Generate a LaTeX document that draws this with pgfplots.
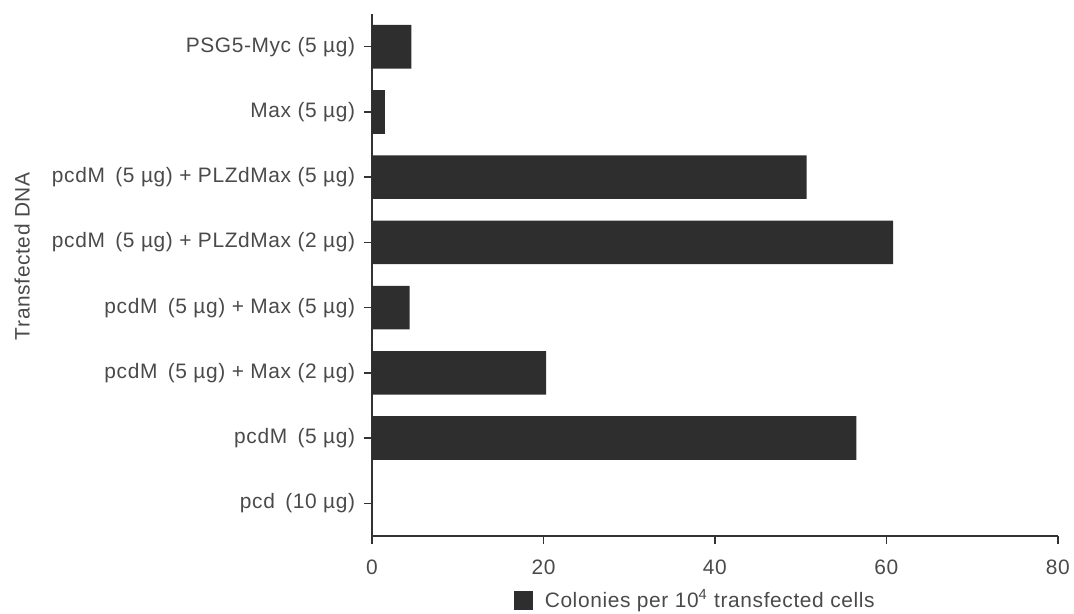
\documentclass[border=0pt]{standalone}
\usepackage{pgfplots}
\pgfplotsset{compat=1.18}
\usepackage{fontspec}
\setmainfont{Liberation Sans}[LetterSpace=3]
\definecolor{barcol}{HTML}{2E2E2E}
\definecolor{txtcol}{HTML}{4A4A4A}
\definecolor{axcol}{HTML}{333333}
\begin{document}
\fontsize{11}{13}\selectfont
\begin{tikzpicture}
\path[use as bounding box] (-195.8pt,-41.05pt) rectangle (369.5pt,282.1pt);
\begin{axis}[
  at={(0pt,0pt)}, anchor=south west,
  scale only axis,
  width=361pt, height=274.7pt,
  xbar,
  bar width=23pt,
  xmin=0, xmax=80,
  ymin=-0.5, ymax=7.5,
  axis x line=bottom, axis y line=left,
  axis line style={-, color=axcol, line width=0.8pt},
  tick style={color=axcol, line width=0.7pt},
  tick align=outside,
  major tick length=4pt,
  xtick={0,20,40,60,80},
  ytick={0,1,2,3,4,5,6,7},
  yticklabels={
    pcd\enspace(10 µg),
    pcdM\enspace(5 µg),
    pcdM\enspace(5 µg) + Max (2 µg),
    pcdM\enspace(5 µg) + Max (5 µg),
    pcdM\enspace(5 µg) + PLZdMax (2 µg),
    pcdM\enspace(5 µg) + PLZdMax (5 µg),
    Max (5 µg),
    PSG5-Myc (5 µg)},
  /pgf/number format/assume math mode=true,
  tick label style={font=\fontsize{11}{13}\selectfont, text=txtcol},
  xticklabel style={yshift=-5pt},
  yticklabel style={xshift=-1pt},
  ylabel={Transfected DNA},
  ylabel style={at={(axis description cs:-0.51,0.536)}, anchor=center, font=\fontsize{11}{13}\selectfont, text=txtcol},
  legend style={at={(axis description cs:0.473,-0.123)}, anchor=center, draw=none, fill=none,
    font=\fontsize{11}{13}\selectfont, text=txtcol, inner sep=0pt},
  legend image code/.code={\fill[barcol] (0pt,-5pt) rectangle (10pt,5pt); \path (14pt,0pt);},
]
\addplot[fill=barcol, draw=none] coordinates {
  (0,0) (56.5,1) (20.3,2) (4.4,3) (60.8,4) (50.7,5) (1.5,6) (4.6,7)
};
\addlegendentry{Colonies per 10\textsuperscript{4} transfected cells}
\end{axis}
\end{tikzpicture}
\end{document}
